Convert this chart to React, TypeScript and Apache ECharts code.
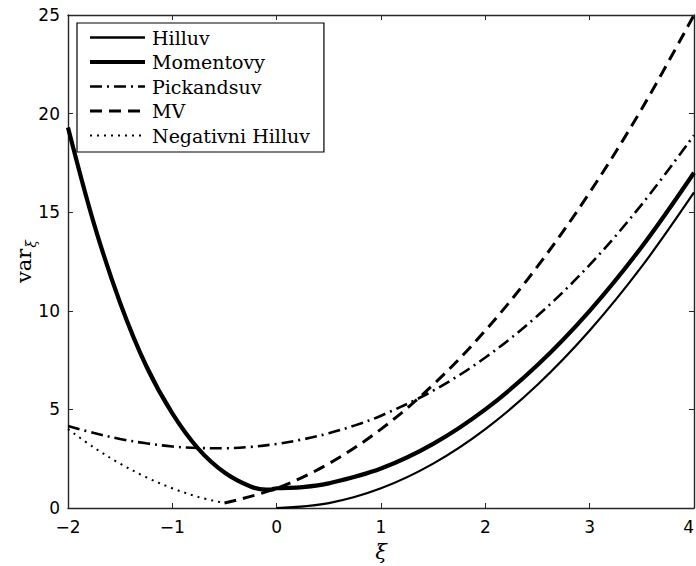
import React, { useEffect, useRef } from "react";
import * as echarts from "echarts";

// Asymptotic variances of extreme-value-index estimators, plotted against ξ.
const hillX = [0, 0.5, 1, 1.5, 2, 2.5, 3, 3.5, 4];
const hillY = [0, 0.25, 1, 2.25, 4, 6.25, 9, 12.25, 16];

const momentX = [-2, -1.75, -1.5, -1.25, -1, -0.75, -0.5, -0.25, -0.1, -0.05, 0, 0.25, 0.5, 1, 1.5, 2, 2.5, 3, 3.5, 4];
const momentY = [19.3, 14.4, 10.4, 7.2, 4.8, 3.0, 1.8, 1.09, 0.93, 0.94, 1.0, 1.06, 1.25, 2, 3.25, 5, 7.25, 10, 13.25, 17];

const pickandsX = [-2, -1.75, -1.5, -1.25, -1, -0.75, -0.5, -0.25, 0, 0.25, 0.5, 0.75, 1, 1.5, 2, 2.5, 3, 3.5, 4];
const pickandsY = [4.16, 3.8, 3.5, 3.28, 3.12, 3.04, 3.03, 3.1, 3.25, 3.48, 3.79, 4.19, 4.68, 5.95, 7.63, 9.75, 12.33, 15.4, 18.9];

const mvX = [-0.5, 0, 0.5, 1, 1.5, 2, 2.5, 3, 3.5, 4];
const mvY = [0.25, 1, 2.25, 4, 6.25, 9, 12.25, 16, 20.25, 25];

const negHillX = [-2, -1.75, -1.5, -1.25, -1, -0.75, -0.5];
const negHillY = [4.0, 3.06, 2.25, 1.56, 1.0, 0.56, 0.25];

const seriesNames = ["Hilluv", "Momentovy", "Pickandsuv", "MV", "Negativni Hilluv"];

const xTicks = { min: -2, max: 4, interval: 1 };
const yTicks = { min: 0, max: 25, interval: 5 };

const pairs = (xs: number[], ys: number[]) => xs.map((x, i) => [x, ys[i]]);

const INK = "#000";
const FRAME = "#262626";

export default function App() {
  const ref = useRef<HTMLDivElement>(null);

  useEffect(() => {
    document.body.style.margin = "0";
    const chart = echarts.init(ref.current!, null, { renderer: "svg" });

    const tickFmt = (v: number) => String(v).replace("-", "\u2212");

    const baseX = {
      type: "value",
      ...xTicks,
      splitLine: { show: false },
      axisLine: { show: true, onZero: false, lineStyle: { color: FRAME, width: 1.4 } },
      axisTick: { show: true, inside: true, length: 5, lineStyle: { color: FRAME, width: 1 } },
    };
    const baseY = {
      type: "value",
      ...yTicks,
      splitLine: { show: false },
      axisLine: { show: true, onZero: false, lineStyle: { color: FRAME, width: 1.4 } },
      axisTick: { show: true, inside: true, length: 5, lineStyle: { color: FRAME, width: 1 } },
    };

    const line = (name: string, xs: number[], ys: number[], width: number, type: any) => ({
      name,
      type: "line",
      data: pairs(xs, ys),
      smooth: 0.35,
      symbol: "none",
      showSymbol: false,
      clip: true,
      lineStyle: { color: INK, width, type, cap: "butt" },
      itemStyle: { color: INK },
    });

    chart.setOption({
      animation: false,
      backgroundColor: "#fff",
      grid: { left: 68, right: 2, top: 15, bottom: 58, containLabel: false, outerBoundsMode: "none" },
      xAxis: [
        {
          ...baseX,
          position: "bottom",
          name: "ξ",
          nameLocation: "middle",
          nameGap: 33,
          nameMoveOverlap: false,
          nameTextStyle: { fontFamily: "DejaVu Serif", fontStyle: "italic", fontSize: 21, color: INK },
          axisLabel: {
            show: true,
            margin: 10,
            alignMaxLabel: "right",
            fontFamily: "DejaVu Sans",
            fontSize: 17,
            color: INK,
            formatter: tickFmt,
          },
        },
        { ...baseX, position: "top", axisLabel: { show: false } },
      ],
      yAxis: [
        {
          ...baseY,
          position: "left",
          name: "{v|var}{s|ξ}",
          nameLocation: "middle",
          nameGap: 32,
          nameMoveOverlap: false,
          nameRotate: 90,
          nameTextStyle: {
            color: INK,
            rich: {
              v: { fontFamily: "DejaVu Serif", fontSize: 21, color: INK, lineHeight: 24 },
              s: { fontFamily: "DejaVu Serif", fontStyle: "italic", fontSize: 14, color: INK, lineHeight: 24, padding: [14, 0, 0, 1] },
            },
          },
          axisLabel: { show: true, margin: 8, fontFamily: "DejaVu Sans", fontSize: 17, color: INK, formatter: tickFmt },
        },
        { ...baseY, position: "right", axisLabel: { show: false } },
      ],
      legend: {
        orient: "vertical",
        left: 77,
        top: 23,
        itemWidth: 55,
        itemHeight: 14,
        itemGap: 5.5,
        padding: [5, 14, 7, 11],
        borderColor: INK,
        borderWidth: 1.2,
        borderRadius: 0,
        backgroundColor: "#fff",
        selectedMode: false,
        itemStyle: { opacity: 0 },
        textStyle: { fontFamily: "DejaVu Serif", fontSize: 19, color: INK, lineHeight: 14, padding: [0, 0, 0, 2] },
        data: [
          { name: seriesNames[0], lineStyle: { width: 2.5 } },
          { name: seriesNames[1], lineStyle: { width: 4 } },
          { name: seriesNames[2], lineStyle: { width: 2.5 } },
          { name: seriesNames[3], lineStyle: { width: 3 } },
          { name: seriesNames[4], lineStyle: { width: 2 } },
        ],
      },
      series: [
        line(seriesNames[0], hillX, hillY, 2.2, "solid"),
        line(seriesNames[1], momentX, momentY, 4.2, "solid"),
        line(seriesNames[2], pickandsX, pickandsY, 2.6, [12, 5, 2, 5]),
        line(seriesNames[3], mvX, mvY, 3, [12, 7]),
        line(seriesNames[4], negHillX, negHillY, 2, [2, 5]),
      ],
    });

    return () => chart.dispose();
  }, []);

  return <div ref={ref} style={{ width: 696, height: 566 }} />;
}
